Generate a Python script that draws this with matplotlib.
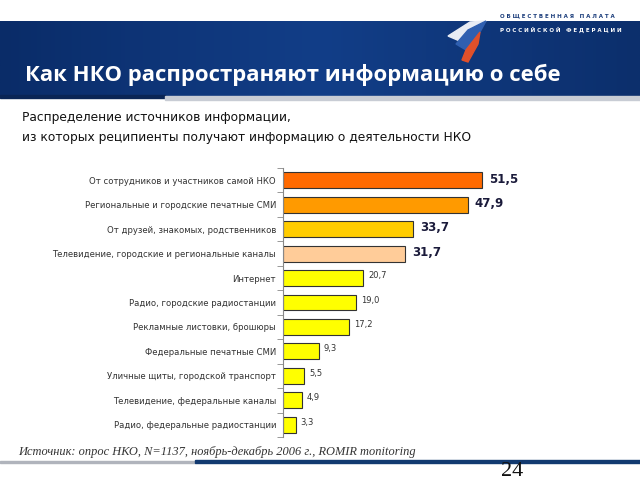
import numpy as np
import matplotlib
matplotlib.use('Agg')
import matplotlib.pyplot as plt
from matplotlib.patches import Rectangle, Polygon

# Data
categories = [
    'От сотрудников и участников самой НКО',
    'Региональные и городские печатные СМИ',
    'От друзей, знакомых, родственников',
    'Телевидение, городские и региональные каналы',
    'Интернет',
    'Радио, городские радиостанции',
    'Рекламные листовки, брошюры',
    'Федеральные печатные СМИ',
    'Уличные щиты, городской транспорт',
    'Телевидение, федеральные каналы',
    'Радио, федеральные радиостанции',
]
values = [51.5, 47.9, 33.7, 31.7, 20.7, 19.0, 17.2, 9.3, 5.5, 4.9, 3.3]
bar_colors = ['#ff6a00', '#ff9a00', '#ffcc00', '#ffcc99'] + ['#ffff00'] * 7

title = 'Как НКО распространяют информацию о себе'
subtitle = ['Распределение источников информации,',
            'из которых реципиенты получают информацию о деятельности НКО']
source = 'Источник: опрос НКО, N=1137, ноябрь-декабрь 2006 г., ROMIR monitoring'
logo_lines = ['О Б Щ Е С Т В Е Н Н А Я   П А Л А Т А',
              'Р О С С И Й С К О Й   Ф Е Д Е Р А Ц И И']

W, H = 640, 480
fig = plt.figure(figsize=(6.4, 4.8), dpi=100)
fig.patch.set_facecolor('white')

# background layer in pixel coords
bg = fig.add_axes([0, 0, 1, 1])
bg.set_xlim(0, W)
bg.set_ylim(H, 0)
bg.axis('off')

# blue header band with gradient
grad = np.linspace(0, 1, 256).reshape(1, -1)
bg.imshow(grad, extent=(0, W, 97, 21), cmap=matplotlib.colors.LinearSegmentedColormap.from_list(
    'hdr', ['#0a2c68', '#123e88', '#0c2f6c']), aspect='auto', zorder=0)
bg.add_patch(Rectangle((0, 95), 165, 3, color='#0a2555', zorder=1))
bg.add_patch(Rectangle((165, 96), W - 165, 4, color='#c8ccd4', zorder=1))
bg.text(25, 75, title, color='white', fontsize=15.9, fontweight='bold',
        va='center', ha='left', family=['Open Sans', 'DejaVu Sans'])

# logo
bg.add_patch(Polygon([(448, 36), (470, 22), (486, 21), (468, 30), (462, 42)],
                     closed=True, color='#e8ecf4', zorder=2))
bg.add_patch(Polygon([(456, 44), (468, 30), (486, 21), (480, 32), (466, 50)],
                     closed=True, color='#2f5fb0', zorder=2))
bg.add_patch(Polygon([(462, 60), (466, 50), (480, 32), (478, 44), (468, 62)],
                     closed=True, color='#e0502a', zorder=2))
bg.text(500, 16, logo_lines[0], color='#1a3c7a', fontsize=4.0,
        fontweight='bold', va='center', ha='left')
bg.text(500, 30, logo_lines[1], color='white', fontsize=4.0,
        fontweight='bold', va='center', ha='left')

# subtitle
bg.text(22, 117, subtitle[0], fontsize=8.85, va='center', ha='left', color='#111')
bg.text(22, 137, subtitle[1], fontsize=8.85, va='center', ha='left', color='#111')

# source and footer
bg.text(18, 452, source, fontsize=8.95, style='italic', va='center', ha='left',
        color='#333', family='Liberation Serif')
bg.add_patch(Rectangle((0, 461), 195, 2, color='#b0b4bc'))
bg.add_patch(Rectangle((195, 460), W - 195, 3, color='#123a70'))
bg.text(512, 471, '24', fontsize=16, va='center', ha='center',
        color='#111', family='Liberation Serif')

# bar chart
ax = fig.add_axes([283 / W, 1 - 437 / H, 231.6 / W, 269 / H])
ax.set_facecolor('none')
y = np.arange(len(values))
ax.barh(y, values, height=0.65, color=bar_colors, edgecolor='#333', linewidth=0.8)
ax.set_xlim(0, 60)
ax.set_ylim(10.5, -0.5)
ax.set_yticks(y)
ax.set_yticklabels(categories, fontsize=6.1, color='#333')
ax.set_yticks(np.arange(-0.5, 11, 1), minor=True)
ax.tick_params(axis='y', which='major', length=0, pad=5)
ax.tick_params(axis='y', which='minor', length=4, color='#888')
ax.set_xticks([])
for s in ['top', 'right', 'bottom']:
    ax.spines[s].set_visible(False)
ax.spines['left'].set_color('#888')

for i, v in enumerate(values):
    lab = f'{v:.1f}'.replace('.', ',')
    if i < 4:
        ax.text(v + 1.8, i - 0.05, lab, fontsize=8.5, fontweight='bold',
                color='#1a1a3a', va='center', ha='left')
    else:
        ax.text(v + 1.3, i - 0.1, lab, fontsize=6, color='#333',
                va='center', ha='left')

fig.savefig('out.png', dpi=100)
